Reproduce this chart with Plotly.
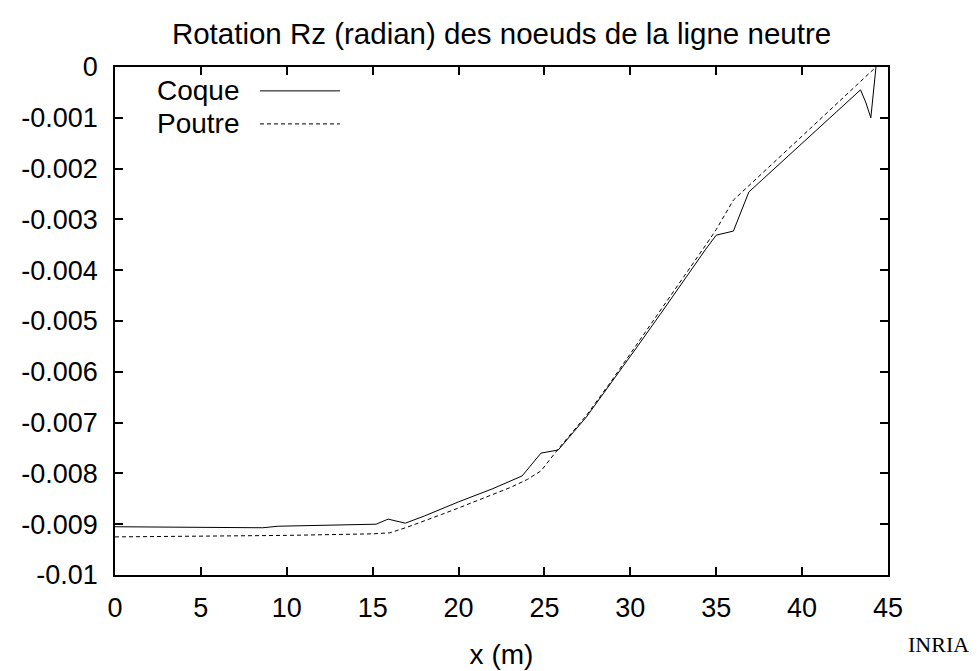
import plotly.graph_objects as go

# Coque (shell) rotation data
coque_x = [0.0, 8.6, 9.5, 15.2, 15.9, 16.9, 18.0, 20.0, 22.0, 23.7, 24.8, 25.8,
           27.44, 28.9, 30.35, 31.8, 33.26, 34.36, 35.0, 36.0, 36.9, 40.0, 43.4, 43.7, 44.0, 44.3]
coque_y = [-0.00905, -0.00907, -0.00904, -0.00900, -0.00890, -0.00898, -0.00884, -0.00856,
           -0.00830, -0.00805, -0.00760, -0.00754, -0.00689, -0.00622, -0.00553, -0.00484,
           -0.00413, -0.00360, -0.00331, -0.00323, -0.00246, -0.00150, -0.00045, -0.00069,
           -0.00100, 0.0]

# Poutre (beam) rotation data
poutre_x = [0.0, 5.0, 10.0, 15.0, 16.0, 17.0, 18.0, 19.0, 20.0, 21.0, 22.0, 23.0, 24.0, 24.8,
            25.8, 27.44, 28.9, 30.35, 31.8, 33.26, 34.36, 35.0, 36.0, 40.0, 44.3]
poutre_y = [-0.00925, -0.00924, -0.00922, -0.00919, -0.00917, -0.00906, -0.00894, -0.00881,
            -0.00868, -0.00855, -0.00842, -0.00828, -0.00812, -0.00795, -0.00752, -0.00686,
            -0.00618, -0.00548, -0.00478, -0.00406, -0.00352, -0.00320, -0.00262, -0.00136, 0.0]

x_ticks = [0, 5, 10, 15, 20, 25, 30, 35, 40, 45]
y_ticks = [0, -0.001, -0.002, -0.003, -0.004, -0.005, -0.006, -0.007, -0.008, -0.009, -0.01]
y_tick_labels = ["0", "-0.001", "-0.002", "-0.003", "-0.004", "-0.005", "-0.006",
                 "-0.007", "-0.008", "-0.009", "-0.01"]
series_names = ["Coque", "Poutre"]

FONT = "Liberation Sans, Arial, sans-serif"

fig = go.Figure()
fig.add_trace(go.Scatter(x=coque_x, y=coque_y, mode="lines", name=series_names[0],
                         line=dict(color="black", width=1), showlegend=False))
fig.add_trace(go.Scatter(x=poutre_x, y=poutre_y, mode="lines", name=series_names[1],
                         line=dict(color="black", width=1, dash="4px,3px"), showlegend=False))

axis_common = dict(showgrid=False, zeroline=False, showline=True, linecolor="black",
                   linewidth=1.5, mirror="ticks", ticks="inside", ticklen=8,
                   tickcolor="black", tickwidth=1.5, automargin=False,
                   tickfont=dict(family=FONT, size=27, color="black"))

fig.update_xaxes(range=[0, 45], tickvals=x_ticks, ticktext=[str(v) for v in x_ticks],
                 ticklabelstandoff=8,
                 title=dict(text="x (m)", font=dict(family=FONT, size=28, color="black"), standoff=22),
                 **axis_common)
fig.update_yaxes(range=[-0.01, 0], tickvals=y_ticks, ticktext=y_tick_labels,
                 ticklabelstandoff=10, **axis_common)

# Legend in gnuplot style: label text then line sample
legend_rows = [(0.953, "solid"), (0.888, "4px,3px")]
for (ypos, dash), name in zip(legend_rows, series_names):
    fig.add_annotation(xref="paper", yref="paper", x=0.164, y=ypos, text=name,
                       showarrow=False, xanchor="right", yanchor="middle",
                       font=dict(family=FONT, size=28, color="black"))
    fig.add_shape(type="line", xref="paper", yref="paper", x0=0.1876, x1=0.291,
                  y0=ypos, y1=ypos, line=dict(color="black", width=1, dash=dash))

fig.add_annotation(xref="paper", yref="paper", x=1.107, y=-0.136, text="INRIA",
                   showarrow=False, xanchor="right", yanchor="middle",
                   font=dict(family="Liberation Serif, DejaVu Serif, serif", size=22, color="black"))

fig.update_layout(
    width=969, height=663,
    margin=dict(l=107, r=89, t=59, b=96, autoexpand=False),
    paper_bgcolor="white", plot_bgcolor="white",
    title=dict(text="Rotation Rz (radian) des noeuds de la ligne neutre",
               x=0.5, xref="paper", y=0.961, yanchor="middle",
               font=dict(family=FONT, size=29.5, color="black")),
)

fig.write_html("out.html")
